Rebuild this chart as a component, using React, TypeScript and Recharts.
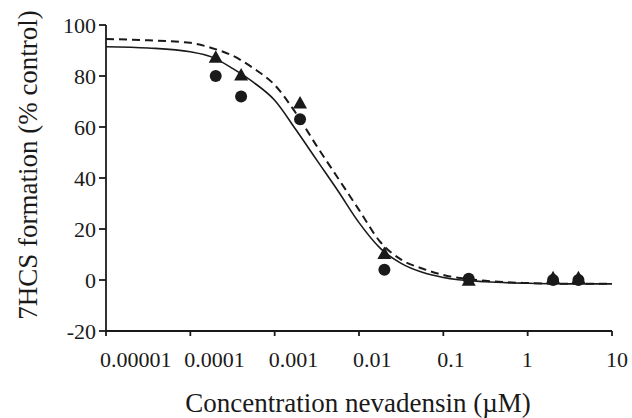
import React from 'react';
import { ComposedChart, Line, Scatter, XAxis, YAxis } from 'recharts';

const curveConc = [1e-5, 3.16e-5, 1e-4, 1.78e-4, 3.16e-4, 5.62e-4, 1e-3, 1.78e-3, 3.16e-3, 5.62e-3, 1e-2, 1.78e-2, 3.16e-2, 5.62e-2, 0.1, 0.316, 1, 3.16, 10];
const solidFit = [91.5, 91, 89.5, 87.5, 83, 77.5, 70.5, 59, 47, 35, 22.5, 12.5, 6.5, 3, 1, -0.7, -1.3, -1.5, -1.5];
const dashedFit = [94.5, 94, 93, 91, 88, 83, 76.5, 65.5, 52.5, 40, 27.5, 15, 8, 4.5, 2, -0.3, -1.2, -1.5, -1.5];

// measured points
const pointConc = [0.0002, 0.0004, 0.002, 0.02, 0.2, 2, 4];
const circleVals = [80, 72, 63, 4, 0.5, 0, 0];
const triangleVals = [87, 80, 69, 10, -0.5, 0.5, 0.5];

const xTicks = [1e-5, 1e-4, 1e-3, 1e-2, 1e-1, 1, 10];
const xTickLabels = ['0.00001', '0.0001', '0.001', '0.01', '0.1', '1', '10'];
const yTicks = [-20, 0, 20, 40, 60, 80, 100];

const solidData = curveConc.map((x, i) => ({ x, y: solidFit[i] }));
const dashedData = curveConc.map((x, i) => ({ x, y: dashedFit[i] }));
const circleData = pointConc.map((x, i) => ({ x, y: circleVals[i] }));
const triangleData = pointConc.map((x, i) => ({ x, y: triangleVals[i] }));

const ink = '#1a1a1a';
const font = 'Liberation Serif, Times New Roman, Times, DejaVu Serif, serif';

const XTick = (props: any) => {
  const idx = xTicks.indexOf(props.payload.value);
  return (
    <text x={props.x - 6} y={props.y} dy={31} textAnchor="start" style={{ fontFamily: font, fontSize: 22 }} fill={ink}>
      {xTickLabels[idx]}
    </text>
  );
};

const YTick = (props: any) => (
  <text x={props.x} y={props.y} dy={7.5} textAnchor="end" style={{ fontFamily: font, fontSize: 22 }} fill={ink}>
    {props.payload.value}
  </text>
);

const Dot = (props: any) => <circle cx={props.cx} cy={props.cy} r={6} fill={ink} />;

const Tri = (props: any) => {
  const { cx, cy } = props;
  return <polygon points={`${cx},${cy - 8} ${cx - 7},${cy + 4.5} ${cx + 7},${cy + 4.5}`} fill={ink} />;
};

const XTitle = () => (
  <text x={358} y={412} textAnchor="middle" style={{ fontFamily: font, fontSize: 27 }} fill={ink}>
    Concentration nevadensin (µM)
  </text>
);

const YTitle = () => (
  <text x={0} y={0} transform="translate(37,165) rotate(-90)" textAnchor="middle" style={{ fontFamily: font, fontSize: 27 }} fill={ink}>
    7HCS formation (% control)
  </text>
);

export default function App() {
  return (
    <div style={{ position: 'absolute', left: 0, top: 0, background: '#fff', fontFamily: font }}>
      <ComposedChart width={632} height={418} margin={{ top: 25, right: 20, left: 0, bottom: 57 }}>
        <XAxis
          dataKey="x"
          type="number"
          scale="log"
          domain={[1e-5, 10]}
          ticks={xTicks}
          tick={<XTick />}
          tickSize={5}
          tickMargin={0}
          height={30}
          stroke={ink}
          strokeWidth={1.8}
          label={<XTitle />}
        />
        <YAxis
          dataKey="y"
          type="number"
          domain={[-20, 100]}
          ticks={yTicks}
          tick={<YTick />}
          tickSize={7}
          tickMargin={3}
          width={106}
          stroke={ink}
          strokeWidth={1.8}
          label={<YTitle />}
        />
        <Line data={dashedData} dataKey="y" type="monotone" stroke={ink} strokeWidth={2} strokeDasharray="8 5" dot={false} activeDot={false} isAnimationActive={false} />
        <Line data={solidData} dataKey="y" type="monotone" stroke={ink} strokeWidth={1.6} dot={false} activeDot={false} isAnimationActive={false} />
        <Scatter data={triangleData} dataKey="y" shape={<Tri />} isAnimationActive={false} />
        <Scatter data={circleData} dataKey="y" shape={<Dot />} isAnimationActive={false} />
      </ComposedChart>
    </div>
  );
}
